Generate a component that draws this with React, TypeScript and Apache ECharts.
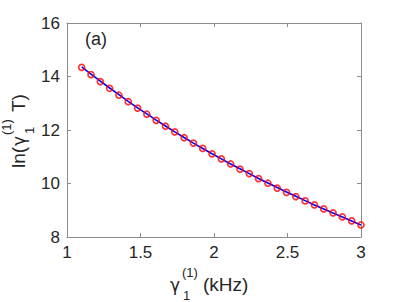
import React, { useEffect, useRef } from "react";
import * as echarts from "echarts";

const xValues = [
  1.1, 1.1633, 1.2267, 1.29, 1.3533, 1.4167, 1.48, 1.5433, 1.6067, 1.67,
  1.7333, 1.7967, 1.86, 1.9233, 1.9867, 2.05, 2.1133, 2.1767, 2.24, 2.3033,
  2.3667, 2.43, 2.4933, 2.5567, 2.62, 2.6833, 2.7467, 2.81, 2.8733, 2.9367, 3.0,
];
const measured = [
  14.34, 14.07, 13.81, 13.56, 13.3, 13.06, 12.82, 12.59, 12.36, 12.14,
  11.93, 11.71, 11.51, 11.31, 11.11, 10.92, 10.73, 10.54, 10.37, 10.18,
  10.01, 9.83, 9.67, 9.51, 9.35, 9.2, 9.05, 8.9, 8.75, 8.6, 8.45,
];
const fitted = [
  14.36, 14.09, 13.83, 13.57, 13.32, 13.07, 12.83, 12.6, 12.37, 12.15,
  11.93, 11.72, 11.51, 11.31, 11.11, 10.92, 10.73, 10.55, 10.37, 10.19,
  10.02, 9.85, 9.68, 9.52, 9.36, 9.2, 9.05, 8.9, 8.75, 8.6, 8.45,
];
const xTicks = { min: 1, max: 3, step: 0.5 };
const yTicks = { min: 8, max: 16, step: 2 };
const panelLabel = "(a)";

export default function App() {
  const ref = useRef<HTMLDivElement>(null);
  useEffect(() => {
    const chart = echarts.init(ref.current!, null, { renderer: "svg" });
    const font = "'Liberation Sans', Arial, Helvetica, sans-serif";
    const greek = "'DejaVu Sans', 'Liberation Sans', sans-serif";
    const axisColor = "#8c8c8c";
    const textColor = "#262626";
    const axisCommon = {
      type: "value" as const,
      splitLine: { show: false },
      axisLine: { show: true, onZero: false, lineStyle: { color: axisColor, width: 1 } },
      axisTick: { show: true, inside: true, length: 4, lineStyle: { color: axisColor, width: 1 } },
    };
    const labelStyle = { fontSize: 17, color: textColor, fontFamily: font };
    const t = (text: string, x: number, y: number, size: number, family: string = font) => ({
      type: "text",
      x,
      y,
      style: { text, fontSize: size, fontFamily: family, fill: textColor, verticalAlign: "middle", align: "left" },
    });
    chart.setOption({
      animation: false,
      backgroundColor: "#ffffff",
      grid: { left: 67, right: 38, top: 23, bottom: 65, containLabel: false },
      xAxis: [
        {
          ...axisCommon,
          position: "bottom",
          min: xTicks.min,
          max: xTicks.max,
          interval: xTicks.step,
          axisLabel: { ...labelStyle, margin: 7, formatter: (v: number) => String(v) },
        },
        {
          ...axisCommon,
          position: "top",
          min: xTicks.min,
          max: xTicks.max,
          interval: xTicks.step,
          axisLabel: { show: false },
        },
      ],
      yAxis: [
        {
          ...axisCommon,
          position: "left",
          min: yTicks.min,
          max: yTicks.max,
          interval: yTicks.step,
          axisLabel: { ...labelStyle, margin: 7, formatter: (v: number) => String(v) },
        },
        {
          ...axisCommon,
          position: "right",
          min: yTicks.min,
          max: yTicks.max,
          interval: yTicks.step,
          axisLabel: { show: false },
        },
      ],
      series: [
        {
          type: "line",
          data: xValues.map((x, i) => [x, fitted[i]]),
          showSymbol: false,
          symbol: "none",
          lineStyle: { color: "#0000ff", width: 1.6 },
          z: 2,
        },
        {
          type: "scatter",
          data: xValues.map((x, i) => [x, measured[i]]),
          symbol: "circle",
          symbolSize: 6,
          itemStyle: { color: "rgba(0,0,0,0)", borderColor: "#ff0000", borderWidth: 1.7 },
          z: 3,
        },
      ],
      graphic: [
        t(panelLabel, 85, 39, 18),
        t("γ", 170, 285, 17, greek),
        t("(1)", 182, 272, 13),
        t("1", 183, 295, 13),
        t("(kHz)", 203, 284.5, 19),
        {
          type: "group",
          x: 18.5,
          y: 168,
          rotation: Math.PI / 2,
          children: [
            t("ln(", 0, 0, 19),
            t("γ", 22, 0.5, 17, greek),
            t("(1)", 33, -12.5, 13),
            t("1", 34, 10.5, 13),
            t("T)", 56, 0, 19),
          ],
        },
      ],
    });
    return () => chart.dispose();
  }, []);
  return (
    <div
      ref={ref}
      style={{ position: "fixed", left: 0, top: 0, width: 399, height: 302, background: "#fff" }}
    />
  );
}
